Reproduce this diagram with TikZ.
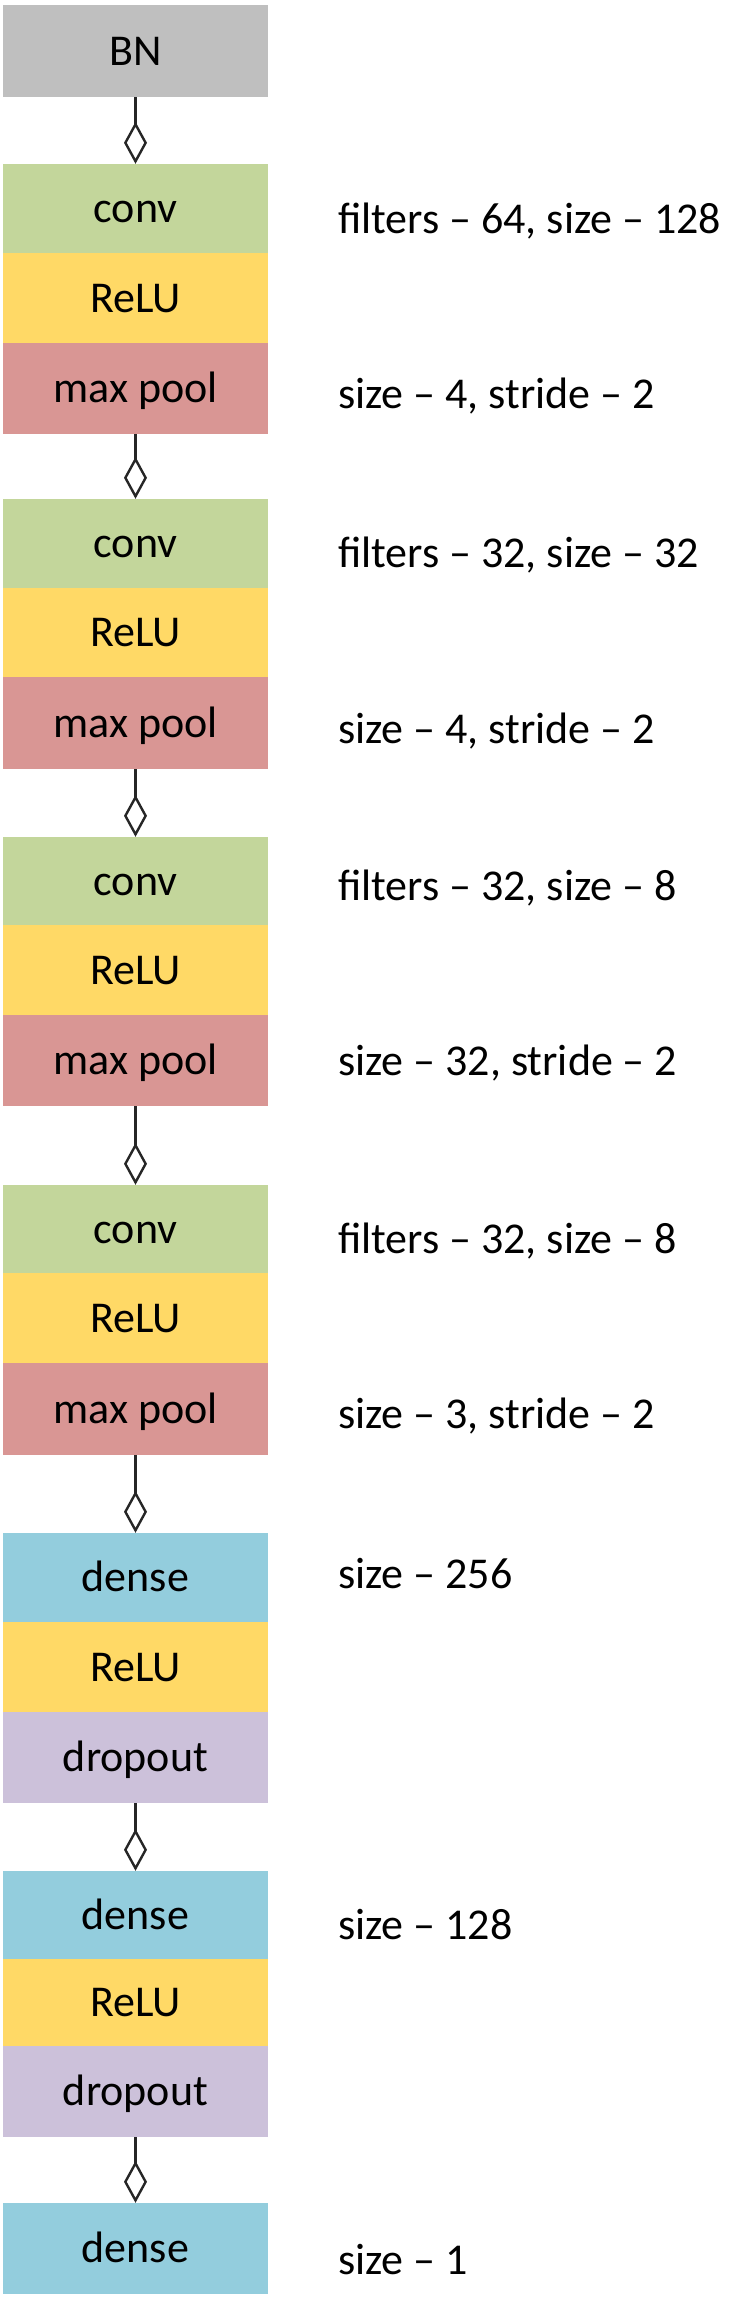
\documentclass[tikz,border=0pt]{standalone}
\usepackage{fontspec}
\setmainfont{Carlito}
\usetikzlibrary{arrows.meta}
\definecolor{cBN}{HTML}{BFBFBF}
\definecolor{cConv}{HTML}{C3D69B}
\definecolor{cRelu}{HTML}{FFD966}
\definecolor{cPool}{HTML}{D99694}
\definecolor{cDense}{HTML}{93CDDD}
\definecolor{cDrop}{HTML}{CCC1DA}
\begin{document}
\begin{tikzpicture}[x=1pt,y=-1pt,
 layer/.style={rectangle, inner sep=0pt, minimum width=265pt, text height=33pt, text depth=4.4pt, font=\fontsize{44}{50}\selectfont},
 note/.style={anchor=base west, inner sep=0pt, font=\fontsize{44}{50}\selectfont},
 link/.style={draw=black!85, line width=2.4pt, -{Diamond[open, length=42pt, width=23pt, line width=2.4pt]}}]
\useasboundingbox[fill=white] (0,0) rectangle (731,2300);

\node[layer, fill=cBN,    minimum height=92pt] (bn)     at (135.5,51)     {BN};

\node[layer, fill=cConv,  minimum height=89pt] (conv1)  at (135.5,208.5)  {conv};
\node[layer, fill=cRelu,  minimum height=90pt] (relu1)  at (135.5,298)    {ReLU};
\node[layer, fill=cPool,  minimum height=91pt] (pool1)  at (135.5,388.5)  {max pool};

\node[layer, fill=cConv,  minimum height=89pt] (conv2)  at (135.5,543.5)  {conv};
\node[layer, fill=cRelu,  minimum height=89pt] (relu2)  at (135.5,632.5)  {ReLU};
\node[layer, fill=cPool,  minimum height=92pt] (pool2)  at (135.5,723)    {max pool};

\node[layer, fill=cConv,  minimum height=88pt] (conv3)  at (135.5,881)    {conv};
\node[layer, fill=cRelu,  minimum height=90pt] (relu3)  at (135.5,970)    {ReLU};
\node[layer, fill=cPool,  minimum height=91pt] (pool3)  at (135.5,1060.5) {max pool};

\node[layer, fill=cConv,  minimum height=88pt] (conv4)  at (135.5,1229)   {conv};
\node[layer, fill=cRelu,  minimum height=90pt] (relu4)  at (135.5,1318)   {ReLU};
\node[layer, fill=cPool,  minimum height=92pt] (pool4)  at (135.5,1409)   {max pool};

\node[layer, fill=cDense, minimum height=89pt] (dense1) at (135.5,1577.5) {dense};
\node[layer, fill=cRelu,  minimum height=90pt] (relu5)  at (135.5,1667)   {ReLU};
\node[layer, fill=cDrop,  minimum height=91pt] (drop1)  at (135.5,1757.5) {dropout};

\node[layer, fill=cDense, minimum height=88pt] (dense2) at (135.5,1915)   {dense};
\node[layer, fill=cRelu,  minimum height=87pt] (relu6)  at (135.5,2002.5) {ReLU};
\node[layer, fill=cDrop,  minimum height=91pt] (drop2)  at (135.5,2091.5) {dropout};

\node[layer, fill=cDense, minimum height=91pt] (dense3) at (135.5,2248.5) {dense};

\draw[link] (bn.south) -- (conv1.north);
\draw[link] (pool1.south) -- (conv2.north);
\draw[link] (pool2.south) -- (conv3.north);
\draw[link] (pool3.south) -- (conv4.north);
\draw[link] (pool4.south) -- (dense1.north);
\draw[link] (drop1.south) -- (dense2.north);
\draw[link] (drop2.south) -- (dense3.north);

\node[note] (l1)  at (338,233)  {filters – 64, size – 128};
\node[note] (l2)  at (338,408)  {size – 4, stride – 2};
\node[note] (l3)  at (338,567)  {filters – 32, size – 32};
\node[note] (l4)  at (338,743)  {size – 4, stride – 2};
\node[note] (l5)  at (338,900)  {filters – 32, size – 8};
\node[note] (l6)  at (338,1075) {size – 32, stride – 2};
\node[note] (l7)  at (338,1253) {filters – 32, size – 8};
\node[note] (l8)  at (338,1428) {size – 3, stride – 2};
\node[note] (l9)  at (338,1588) {size – 256};
\node[note] (l10) at (338,1939) {size – 128};
\node[note] (l11) at (338,2274) {size – 1};
\end{tikzpicture}
\end{document}
